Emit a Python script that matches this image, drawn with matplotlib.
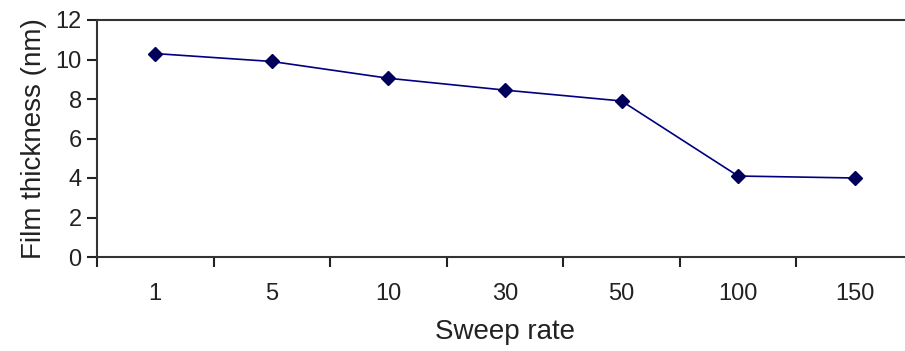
import matplotlib.pyplot as plt
import matplotlib as mpl
import numpy as np

mpl.rcParams['font.family'] = ['Liberation Sans', 'DejaVu Sans']

# data
rates = ['1', '5', '10', '30', '50', '100', '150']
thickness = [10.3, 9.9, 9.05, 8.45, 7.9, 4.1, 4.0]

fig = plt.figure(figsize=(9.05, 3.51), dpi=100)
ax = fig.add_axes([97/905, 94/351, 816/905, 237/351])

x = np.arange(len(rates))
ax.plot(x, thickness, color='#000080', linewidth=1.2, marker='D',
        markersize=7, markerfacecolor='#00005a', markeredgecolor='#00005a')

ax.set_ylim(0, 12)
ax.set_yticks(np.arange(0, 13, 2))
ax.set_xlim(-0.5, len(rates) - 0.5)

# ticks at category boundaries, labels in the middle
ax.set_xticks(np.arange(-0.5, len(rates), 1.0))
ax.set_xticklabels([])
ax.set_xticks(x, minor=True)
ax.set_xticklabels(rates, minor=True)
ax.tick_params(axis='x', which='major', direction='out', length=7, width=1.5, color='#222222')
ax.tick_params(axis='x', which='minor', length=0, pad=19, labelsize=17, labelcolor='#222222')
ax.tick_params(axis='y', direction='out', length=7, width=1.5, pad=4, labelsize=17,
               color='#222222', labelcolor='#222222')

for side in ['left', 'bottom', 'top']:
    ax.spines[side].set_linewidth(1.5)
    ax.spines[side].set_color('#333333')
ax.spines['right'].set_visible(False)

ax.set_xlabel('Sweep rate', fontsize=20, color='#222222', labelpad=10)
ax.set_ylabel('Film thickness (nm)', fontsize=20, color='#222222', labelpad=6)

plt.savefig('out.png', dpi=100)
